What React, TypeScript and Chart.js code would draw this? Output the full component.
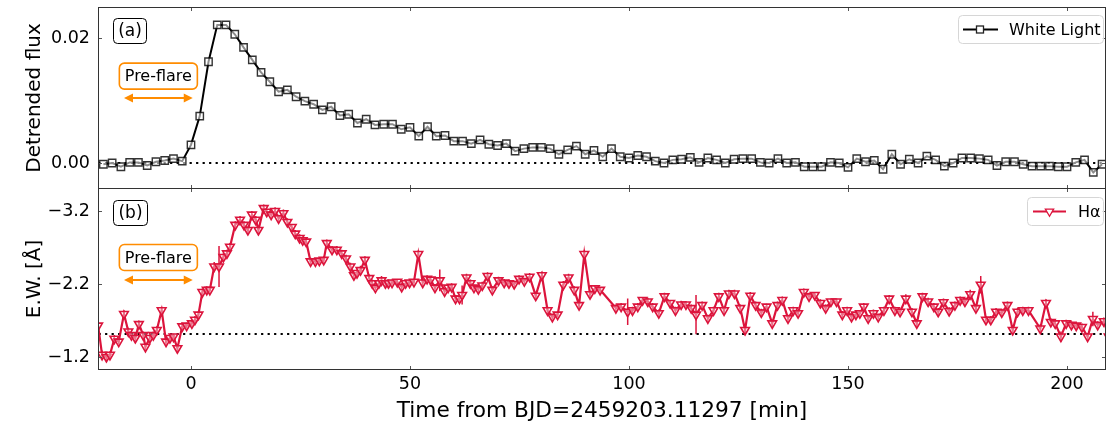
import { useEffect, useRef } from "react";
import { Chart, registerables } from "chart.js";

Chart.register(...registerables);

const FONT = "'DejaVu Sans', 'Liberation Sans', sans-serif";
const CRIMSON = "#dc143c";
const ORANGE = "#ff8c00";

// ---- shared time axis (minutes from BJD=2459203.11297) ----
const timeRange = [-21.23, 208.9];
const timeTicks = [0, 50, 100, 150, 200];

// ---- white-light detrended flux, 2-min cadence ----
const wlTime = [
  -20, -18, -16, -14, -12, -10, -8, -6, -4, -2,
  0, 2, 4, 6, 8, 10, 12, 14, 16, 18,
  20, 22, 24, 26, 28, 30, 32, 34, 36, 38,
  40, 42, 44, 46, 48, 50, 52, 54, 56, 58,
  60, 62, 64, 66, 68, 70, 72, 74, 76, 78,
  80, 82, 84, 86, 88, 90, 92, 94, 96, 98,
  100, 102, 104, 106, 108, 110, 112, 114, 116, 118,
  120, 122, 124, 126, 128, 130, 132, 134, 136, 138,
  140, 142, 144, 146, 148, 150, 152, 154, 156, 158,
  160, 162, 164, 166, 168, 170, 172, 174, 176, 178,
  180, 182, 184, 186, 188, 190, 192, 194, 196, 198,
  200, 202, 204, 206, 208,
];
const wlFlux = [
  -0.0002, 0.0, -0.0006, 0.0001, 0.0001, -0.0004, 0.0002, 0.0004, 0.0007, 0.0003,
  0.0029, 0.0075, 0.0162, 0.0221, 0.0221, 0.0206, 0.0185, 0.0165, 0.0145, 0.013,
  0.0114, 0.0117, 0.0106, 0.0099, 0.0094, 0.0085, 0.009, 0.0076, 0.0078, 0.0064,
  0.007, 0.0061, 0.0062, 0.0062, 0.0054, 0.0057, 0.0043, 0.0058, 0.0043, 0.0044,
  0.0035, 0.0035, 0.0031, 0.0037, 0.003, 0.0028, 0.0031, 0.0019, 0.0023, 0.0025,
  0.0025, 0.0023, 0.0014, 0.0021, 0.0027, 0.0014, 0.002, 0.001, 0.0023, 0.001,
  0.0008, 0.0012, 0.001, 0.0003, 0.0, 0.0005, 0.0006, 0.0009, 0.0001, 0.0008,
  0.0005, 0.0, 0.0006, 0.0007, 0.0007, 0.0001, 0.0, 0.0007, 0.0, 0.0001,
  -0.0006, -0.0006, -0.0006, 0.0001, 0.0, -0.0007, 0.0007, 0.0002, 0.0004, -0.001,
  0.0014, -0.0002, 0.0006, 0.0, 0.0011, 0.0005, -0.0005, 0.0, 0.0008, 0.0008,
  0.0007, 0.0005, -0.0004, 0.0002, 0.0002, -0.0002, -0.0005, -0.0005, -0.0005, -0.0006,
  -0.0006, 0.0001, 0.0005, -0.0015, -0.0002,
];
const wlRange = [-0.00416, 0.02496];
const wlTicks = [0.0, 0.02];

// ---- H-alpha equivalent width [Å] with 1-sigma errors ----
const haTime = [
  -21.2, -20.3, -19.3, -18.5, -17.5, -16.5, -15.3, -14.3, -13.6, -12.7,
  -11.9, -10.9, -10.4, -9.4, -8.6, -7.8, -6.7, -5.7, -4.8, -4.0,
  -3.1, -2.0, -1.0, 0.2, 0.9, 1.7, 2.6, 3.6, 4.3, 5.3,
  6.4, 7.4, 8.2, 8.9, 10.1, 11.2, 12.1, 13.0, 13.9, 14.8,
  15.4, 16.6, 17.3, 18.3, 19.2, 20.0, 21.1, 22.0, 23.0, 23.8,
  24.8, 25.5, 26.3, 27.3, 28.4, 29.3, 30.3, 31.0, 32.2, 33.3,
  34.4, 35.4, 36.4, 37.2, 37.9, 38.7, 39.7, 40.7, 41.4, 42.1,
  42.9, 43.5, 44.4, 45.1, 45.9, 47.1, 48.1, 49.0, 49.9, 50.9,
  51.9, 52.9, 53.9, 54.7, 55.7, 56.8, 57.9, 58.7, 59.5, 60.4,
  61.3, 61.9, 62.9, 63.8, 64.6, 65.6, 66.5, 67.7, 68.8, 70.2,
  71.5, 72.6, 73.8, 74.9, 76.1, 77.3, 78.7, 80.1, 81.4, 82.5,
  83.7, 85.0, 86.2, 87.5, 88.6, 89.8, 91.1, 92.2, 93.4, 97.0,
  98.2, 99.7, 100.8, 102.0, 103.1, 104.3, 105.4, 106.8, 108.1, 109.4,
  110.6, 111.9, 113.0, 114.2, 115.3, 116.7, 118.0, 119.3, 120.5, 121.7,
  122.8, 124.1, 125.4, 126.5, 127.7, 128.9, 130.2, 131.4, 132.7, 133.9,
  135.0, 136.3, 137.5, 138.6, 139.9, 141.1, 142.4, 143.7, 144.9, 146.1,
  147.4, 148.7, 149.8, 150.8, 151.8, 152.7, 153.6, 154.6, 155.8, 156.9,
  158.2, 159.4, 160.7, 161.9, 163.2, 164.6, 165.7, 167.0, 168.3, 169.6,
  170.6, 171.8, 173.1, 174.4, 175.6, 176.7, 177.9, 179.2, 180.3, 181.5,
  182.6, 183.8, 185.1, 186.4, 187.6, 188.7, 189.9, 191.2, 193.9, 195.2,
  196.3, 197.3, 198.6, 199.8, 201.0, 202.1, 203.4, 204.7, 205.9, 207.0,
  208.4, 209.5,
];
const haEW = [
  -1.63, -1.23, -1.2, -1.23, -1.45, -1.41, -1.79, -1.55, -1.5, -1.46,
  -1.65, -1.5, -1.34, -1.46, -1.5, -1.57, -1.84, -1.41, -1.46, -1.48,
  -1.32, -1.62, -1.63, -1.66, -1.71, -1.78, -2.09, -2.12, -2.12, -2.44,
  -2.44, -2.57, -2.62, -2.71, -3.01, -3.08, -3.01, -2.94, -3.15, -3.08,
  -2.94, -3.24, -3.19, -3.15, -3.2, -3.1, -3.17, -3.05, -2.98, -2.89,
  -2.83, -2.8, -2.78, -2.51, -2.51, -2.52, -2.53, -2.76, -2.67, -2.67,
  -2.62, -2.55, -2.44, -2.32, -2.35, -2.39, -2.53, -2.28, -2.21, -2.15,
  -2.21, -2.25, -2.21, -2.21, -2.22, -2.23, -2.16, -2.21, -2.22, -2.23,
  -2.61, -2.22, -2.27, -2.26, -2.15, -2.25, -2.1, -2.15, -2.16, -2.0,
  -2.0, -2.05, -2.29, -2.21, -2.15, -2.13, -2.18, -2.31, -2.12, -2.25,
  -2.22, -2.21, -2.2, -2.27, -2.24, -2.3, -2.04, -2.32, -1.84, -1.75,
  -1.78, -2.19, -2.29, -2.12, -1.91, -2.61, -2.06, -2.14, -2.12, -1.87,
  -1.89, -1.82, -1.84, -1.89, -1.98, -1.96, -1.89, -1.8, -2.03, -1.94,
  -1.84, -1.92, -1.92, -1.87, -1.78, -1.91, -1.73, -1.84, -2.03, -1.84,
  -2.07, -2.07, -1.87, -1.57, -2.04, -1.91, -1.81, -1.89, -1.66, -1.91,
  -1.98, -1.73, -1.84, -1.8, -2.09, -2.03, -2.05, -1.94, -1.87, -1.96,
  -1.96, -1.78, -1.84, -1.75, -1.78, -1.8, -1.89, -1.73, -1.8, -1.75,
  -1.84, -2.0, -1.84, -1.82, -2.0, -1.82, -1.66, -2.03, -1.96, -1.89,
  -1.82, -1.95, -1.83, -1.91, -1.98, -1.96, -2.06, -1.87, -2.19, -1.71,
  -1.71, -1.82, -1.81, -1.91, -1.57, -1.82, -1.84, -1.84, -1.59, -1.94,
  -1.68, -1.66, -1.48, -1.66, -1.64, -1.63, -1.61, -1.48, -1.72, -1.64,
  -1.69, -1.48,
];
const haErr = [
  0.05, 0.06, 0.05, 0.05, 0.05, 0.04, 0.05, 0.05, 0.04, 0.04,
  0.05, 0.05, 0.05, 0.04, 0.05, 0.05, 0.05, 0.05, 0.04, 0.04,
  0.05, 0.05, 0.04, 0.04, 0.05, 0.05, 0.05, 0.05, 0.04, 0.06,
  0.28, 0.05, 0.05, 0.05, 0.05, 0.05, 0.05, 0.05, 0.05, 0.05,
  0.05, 0.05, 0.04, 0.05, 0.05, 0.05, 0.05, 0.05, 0.04, 0.05,
  0.05, 0.04, 0.04, 0.05, 0.04, 0.04, 0.05, 0.05, 0.05, 0.05,
  0.05, 0.05, 0.05, 0.05, 0.05, 0.06, 0.05, 0.05, 0.05, 0.04,
  0.04, 0.06, 0.04, 0.05, 0.04, 0.04, 0.05, 0.04, 0.05, 0.04,
  0.05, 0.05, 0.05, 0.05, 0.05, 0.15, 0.05, 0.05, 0.05, 0.05,
  0.05, 0.13, 0.05, 0.05, 0.04, 0.05, 0.05, 0.05, 0.05, 0.05,
  0.05, 0.05, 0.04, 0.05, 0.04, 0.05, 0.05, 0.05, 0.05, 0.04,
  0.04, 0.05, 0.05, 0.05, 0.05, 0.06, 0.05, 0.04, 0.04, 0.05,
  0.05, 0.18, 0.05, 0.05, 0.04, 0.05, 0.05, 0.05, 0.05, 0.04,
  0.05, 0.05, 0.04, 0.05, 0.27, 0.05, 0.05, 0.05, 0.05, 0.05,
  0.05, 0.05, 0.05, 0.06, 0.05, 0.05, 0.05, 0.04, 0.05, 0.05,
  0.05, 0.05, 0.05, 0.05, 0.05, 0.05, 0.04, 0.05, 0.05, 0.04,
  0.04, 0.05, 0.05, 0.05, 0.05, 0.04, 0.05, 0.05, 0.05, 0.04,
  0.05, 0.05, 0.05, 0.04, 0.06, 0.05, 0.06, 0.05, 0.05, 0.05,
  0.05, 0.05, 0.05, 0.05, 0.05, 0.05, 0.06, 0.05, 0.12, 0.05,
  0.05, 0.05, 0.05, 0.05, 0.05, 0.05, 0.05, 0.05, 0.06, 0.05,
  0.05, 0.05, 0.07, 0.05, 0.05, 0.05, 0.05, 0.05, 0.10, 0.05,
  0.05, 0.08,
];
const haRange = [-3.515, -1.022];
const haTicks = [-3.2, -2.2, -1.2];
const haQuiescent = -1.515;

// ---- pre-flare window annotation ----
const preFlareWindow = [-15.3, 0.4];

const fmtMinus = (v: number, d: number) =>
  (v < 0 ? "\u2212" : "") + Math.abs(v).toFixed(d);

function roundRect(ctx: CanvasRenderingContext2D, x: number, y: number, w: number, h: number, r: number) {
  ctx.beginPath();
  ctx.moveTo(x + r, y);
  ctx.lineTo(x + w - r, y);
  ctx.arcTo(x + w, y, x + w, y + r, r);
  ctx.lineTo(x + w, y + h - r);
  ctx.arcTo(x + w, y + h, x + w - r, y + h, r);
  ctx.lineTo(x + r, y + h);
  ctx.arcTo(x, y + h, x, y + h - r, r);
  ctx.lineTo(x, y + r);
  ctx.arcTo(x, y, x + r, y, r);
  ctx.closePath();
}

function drawFrame(chart: any, yTicks: number[]) {
  const { ctx, chartArea: a, scales } = chart;
  ctx.save();
  ctx.strokeStyle = "#555";
  ctx.lineWidth = 1;
  ctx.beginPath();
  for (const t of timeTicks) {
    const px = Math.round(scales.x.getPixelForValue(t)) + 0.5;
    ctx.moveTo(px, a.top);
    ctx.lineTo(px, a.top + 4);
    ctx.moveTo(px, a.bottom);
    ctx.lineTo(px, a.bottom - 4);
  }
  for (const v of yTicks) {
    const py = Math.round(scales.y.getPixelForValue(v)) + 0.5;
    ctx.moveTo(a.left, py);
    ctx.lineTo(a.left + 4, py);
    ctx.moveTo(a.right, py);
    ctx.lineTo(a.right - 4, py);
  }
  ctx.stroke();
  ctx.strokeStyle = "#333";
  ctx.strokeRect(a.left + 0.5, a.top + 0.5, a.right - a.left - 1, a.bottom - a.top - 1);
  ctx.restore();
}

function drawTag(ctx: CanvasRenderingContext2D, text: string, x: number, y: number, w: number, h: number) {
  ctx.save();
  roundRect(ctx, x + 0.5, y + 0.5, w, h, 4);
  ctx.fillStyle = "#fff";
  ctx.fill();
  ctx.strokeStyle = "#000";
  ctx.lineWidth = 1;
  ctx.stroke();
  ctx.fillStyle = "#000";
  ctx.font = `17px ${FONT}`;
  ctx.textAlign = "center";
  ctx.textBaseline = "middle";
  ctx.fillText(text, x + w / 2 + 0.5, y + h / 2 + 1);
  ctx.restore();
}

function drawPreFlare(chart: any, labelValue: number, arrowValue: number) {
  const { ctx, scales } = chart;
  const x1 = scales.x.getPixelForValue(preFlareWindow[0]);
  const x2 = scales.x.getPixelForValue(preFlareWindow[1]);
  const ya = scales.y.getPixelForValue(arrowValue);
  const cx = (x1 + x2) / 2;
  const cy = scales.y.getPixelForValue(labelValue);
  ctx.save();
  // label box
  const w = 78, h = 26;
  roundRect(ctx, cx - w / 2, cy - h / 2, w, h, 5);
  ctx.fillStyle = "#fff";
  ctx.fill();
  ctx.strokeStyle = ORANGE;
  ctx.lineWidth = 1.6;
  ctx.stroke();
  ctx.fillStyle = "#000";
  ctx.font = `16px ${FONT}`;
  ctx.textAlign = "center";
  ctx.textBaseline = "middle";
  ctx.fillText("Pre-flare", cx, cy + 1);
  // double-headed arrow
  const head = 9, hw = 4.5;
  ctx.strokeStyle = ORANGE;
  ctx.fillStyle = ORANGE;
  ctx.lineWidth = 2;
  ctx.beginPath();
  ctx.moveTo(x1 + head - 1, ya);
  ctx.lineTo(x2 - head + 1, ya);
  ctx.stroke();
  ctx.beginPath();
  ctx.moveTo(x1, ya);
  ctx.lineTo(x1 + head, ya - hw);
  ctx.lineTo(x1 + head, ya + hw);
  ctx.closePath();
  ctx.fill();
  ctx.beginPath();
  ctx.moveTo(x2, ya);
  ctx.lineTo(x2 - head, ya - hw);
  ctx.lineTo(x2 - head, ya + hw);
  ctx.closePath();
  ctx.fill();
  ctx.restore();
}

function drawLegendBox(ctx: CanvasRenderingContext2D, x: number, y: number, w: number, h: number) {
  roundRect(ctx, x + 0.5, y + 0.5, w, h, 4);
  ctx.fillStyle = "rgba(255,255,255,0.85)";
  ctx.fill();
  ctx.strokeStyle = "#d6d6d6";
  ctx.lineWidth = 1;
  ctx.stroke();
}

const topDecor = {
  id: "topDecor",
  afterDatasetsDraw(chart: any) {
    const { ctx, chartArea: a } = chart;
    drawFrame(chart, wlTicks);
    drawTag(ctx, "(a)", a.left + 15, a.top + 11, 33, 25);
    drawPreFlare(chart, 0.0139, 0.0104);
    // legend
    ctx.save();
    const bw = 145, bh = 28;
    const bx = a.right - 3 - bw, by = a.top + 8;
    drawLegendBox(ctx, bx, by, bw, bh);
    const ly = by + bh / 2 + 0.5;
    ctx.strokeStyle = "#000";
    ctx.lineWidth = 2;
    ctx.beginPath();
    ctx.moveTo(bx + 5, ly);
    ctx.lineTo(bx + 40, ly);
    ctx.stroke();
    ctx.fillStyle = "#fff";
    ctx.fillRect(bx + 18.5, ly - 3.5, 7, 7);
    ctx.strokeStyle = "#222";
    ctx.lineWidth = 1.3;
    ctx.strokeRect(bx + 18.5, ly - 3.5, 7, 7);
    ctx.fillStyle = "#000";
    ctx.font = `16px ${FONT}`;
    ctx.textAlign = "left";
    ctx.textBaseline = "middle";
    ctx.fillText("White Light", bx + 51, ly + 1);
    ctx.restore();
  },
};

const bottomDecor = {
  id: "bottomDecor",
  beforeDatasetsDraw(chart: any) {
    const { ctx, chartArea: a, scales } = chart;
    ctx.save();
    ctx.beginPath();
    ctx.rect(a.left, a.top, a.right - a.left, a.bottom - a.top);
    ctx.clip();
    ctx.strokeStyle = CRIMSON;
    ctx.lineWidth = 1.5;
    ctx.beginPath();
    for (let i = 0; i < haTime.length; i++) {
      const px = scales.x.getPixelForValue(haTime[i]);
      ctx.moveTo(px, scales.y.getPixelForValue(haEW[i] - haErr[i]));
      ctx.lineTo(px, scales.y.getPixelForValue(haEW[i] + haErr[i]));
    }
    ctx.stroke();
    ctx.restore();
  },
  afterDatasetsDraw(chart: any) {
    const { ctx, chartArea: a } = chart;
    drawFrame(chart, haTicks);
    drawTag(ctx, "(b)", a.left + 15, a.top + 12, 34, 25);
    drawPreFlare(chart, -2.563, -2.255);
    // legend
    ctx.save();
    const bw = 76, bh = 28;
    const bx = a.right - 3 - bw, by = a.top + 9;
    drawLegendBox(ctx, bx, by, bw, bh);
    const ly = by + bh / 2 + 0.5;
    ctx.strokeStyle = CRIMSON;
    ctx.lineWidth = 2;
    ctx.beginPath();
    ctx.moveTo(bx + 6, ly);
    ctx.lineTo(bx + 39, ly);
    ctx.stroke();
    const mx = bx + 22.5, r = 4.8;
    ctx.beginPath();
    ctx.moveTo(mx, ly + r);
    ctx.lineTo(mx - r * 0.866, ly - r / 2);
    ctx.lineTo(mx + r * 0.866, ly - r / 2);
    ctx.closePath();
    ctx.fillStyle = "#fff";
    ctx.fill();
    ctx.lineWidth = 1.3;
    ctx.stroke();
    ctx.fillStyle = "#000";
    ctx.font = `16px ${FONT}`;
    ctx.textAlign = "left";
    ctx.textBaseline = "middle";
    ctx.fillText("H\u03b1", bx + 51, ly + 1);
    ctx.restore();
  },
};

const tickFont = { family: FONT, size: 17.5 };
const titleFont = { family: FONT, size: 20, lineHeight: 1.2 };

function yAxisFit(s: any) {
  s.width = 98;
  s.paddingTop = 0;
  s.paddingBottom = 0;
}

export default function App() {
  const topRef = useRef<HTMLCanvasElement>(null);
  const botRef = useRef<HTMLCanvasElement>(null);

  useEffect(() => {
    Chart.defaults.font.family = FONT;

    const top = new Chart(topRef.current as HTMLCanvasElement, {
      type: "line",
      data: {
        datasets: [
          {
            label: "White Light",
            data: wlTime.map((t, i) => ({ x: t, y: wlFlux[i] })),
            borderColor: "#000",
            borderWidth: 2,
            pointStyle: "rect",
            pointRadius: 5.2,
            pointBorderColor: "rgba(0,0,0,0.8)",
            pointBackgroundColor: "rgba(255,255,255,0.55)",
            pointBorderWidth: 1.4,
            tension: 0,
            order: 1,
          },
          {
            label: "zero",
            data: [
              { x: -30, y: 0 },
              { x: 220, y: 0 },
            ],
            borderColor: "#000",
            borderWidth: 2,
            borderDash: [2.2, 4.3],
            pointRadius: 0,
            order: 2,
          },
        ],
      },
      options: {
        responsive: false,
        animation: false,
        events: [],
        layout: { autoPadding: false, padding: { left: 0, right: 1, top: 7, bottom: 1 } },
        plugins: { legend: { display: false }, tooltip: { enabled: false } },
        scales: {
          x: { type: "linear", min: timeRange[0], max: timeRange[1], display: false },
          y: {
            type: "linear",
            min: wlRange[0],
            max: wlRange[1],
            afterFit: yAxisFit,
            afterBuildTicks: (s: any) => {
              s.ticks = wlTicks.map((v) => ({ value: v }));
            },
            ticks: {
              callback: (v: any) => Number(v).toFixed(2),
              font: tickFont,
              color: "#000",
              padding: 8,
            },
            grid: { display: false, drawTicks: false },
            border: { display: false },
            title: {
              display: true,
              text: "Detrended flux",
              font: titleFont,
              color: "#000",
              padding: { top: 23, bottom: 0 },
            },
          },
        },
      },
      plugins: [topDecor],
    } as any);

    const bottom = new Chart(botRef.current as HTMLCanvasElement, {
      type: "line",
      data: {
        datasets: [
          {
            label: "H\u03b1",
            data: haTime.map((t, i) => ({ x: t, y: haEW[i] })),
            borderColor: CRIMSON,
            borderWidth: 2.2,
            pointStyle: "triangle",
            pointRotation: 180,
            pointRadius: 5,
            pointBorderColor: CRIMSON,
            pointBackgroundColor: "rgba(255,255,255,0.4)",
            pointBorderWidth: 1.6,
            tension: 0,
            order: 1,
          },
          {
            label: "quiescent",
            data: [
              { x: -30, y: haQuiescent },
              { x: 220, y: haQuiescent },
            ],
            borderColor: "#000",
            borderWidth: 2,
            borderDash: [2.2, 4.3],
            pointRadius: 0,
            order: 2,
          },
        ],
      },
      options: {
        responsive: false,
        animation: false,
        events: [],
        layout: { autoPadding: false, padding: { left: 0, right: 1, top: 0, bottom: 0 } },
        plugins: { legend: { display: false }, tooltip: { enabled: false } },
        scales: {
          x: {
            type: "linear",
            min: timeRange[0],
            max: timeRange[1],
            afterFit: (s: any) => {
              s.height = 55;
              s.paddingLeft = 0;
              s.paddingRight = 0;
            },
            afterBuildTicks: (s: any) => {
              s.ticks = timeTicks.map((v) => ({ value: v }));
            },
            ticks: {
              font: tickFont,
              color: "#000",
              padding: 4,
              autoSkip: false,
              maxRotation: 0,
              callback: (v: any) => String(v),
            },
            grid: { display: false, drawTicks: false },
            border: { display: false },
            title: {
              display: true,
              text: "Time from BJD=2459203.11297 [min]",
              font: { family: FONT, size: 21.7, lineHeight: 1.2 },
              color: "#000",
              padding: { top: 0, bottom: 1 },
            },
          },
          y: {
            type: "linear",
            reverse: true,
            min: haRange[0],
            max: haRange[1],
            afterFit: yAxisFit,
            afterBuildTicks: (s: any) => {
              s.ticks = haTicks.map((v) => ({ value: v }));
            },
            ticks: {
              callback: (v: any) => fmtMinus(Number(v), 1),
              font: tickFont,
              color: "#000",
              padding: 8,
            },
            grid: { display: false, drawTicks: false },
            border: { display: false },
            title: {
              display: true,
              text: "E.W. [\u00c5]",
              font: titleFont,
              color: "#000",
              padding: { top: 23, bottom: 0 },
            },
          },
        },
      },
      plugins: [bottomDecor],
    } as any);

    return () => {
      top.destroy();
      bottom.destroy();
    };
  }, []);

  return (
    <div
      style={{
        position: "absolute",
        left: 0,
        top: 0,
        width: 1107,
        height: 425,
        background: "#fff",
        overflow: "hidden",
      }}
    >
      <canvas
        ref={topRef}
        width={1107}
        height={190}
        style={{ position: "absolute", left: 0, top: 0, width: 1107, height: 190 }}
      />
      <canvas
        ref={botRef}
        width={1107}
        height={237}
        style={{ position: "absolute", left: 0, top: 188, width: 1107, height: 237 }}
      />
    </div>
  );
}
